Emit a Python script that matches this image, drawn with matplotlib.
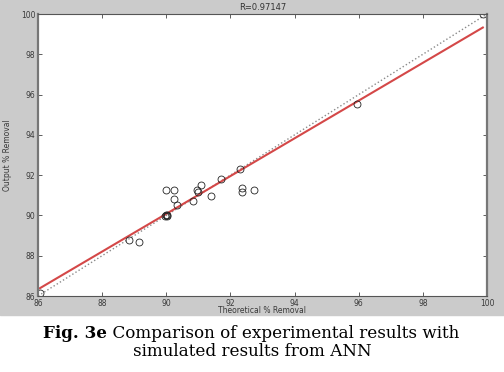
import matplotlib
matplotlib.use('Agg')
import matplotlib.pyplot as plt
from matplotlib.patches import Rectangle

# valores (Theoretical x Output)
teorico = [86.06, 88.83, 89.16, 89.97, 90.00, 90.03, 90.01, 90.00, 90.25,
           90.25, 90.34, 90.84, 90.97, 91.00, 91.07, 91.39, 91.70, 92.29,
           92.35, 92.35, 92.75, 95.94, 99.87]
saida = [86.13, 88.79, 88.70, 89.98, 90.00, 90.02, 89.96, 91.27, 91.27,
         90.82, 90.50, 90.74, 91.27, 91.15, 91.50, 90.95, 91.83, 92.32,
         91.35, 91.15, 91.27, 95.53, 99.98]

# reta ajustada
inclinacao = 0.937
intercepto = 5.75
R = 0.97147

ticks = [86, 88, 90, 92, 94, 96, 98, 100]


def Grafico():
    fig = plt.figure(figsize=(5.04, 3.72), dpi=100, facecolor='white')
    # fundo cinza estilo matlab
    fig.patches.append(Rectangle((0, 1 - 315 / 372), 1, 315 / 372,
                                 transform=fig.transFigure, color='#cbcbcb',
                                 zorder=-5))
    ax = fig.add_axes([38 / 504, 1 - 296 / 372, 449 / 504, 282 / 372])
    ax.set_facecolor('white')
    ax.set_zorder(2)

    ax.plot([86, 100], [86, 100], ':', color='#8a8a8a', lw=1.0)
    xs = [min(teorico), max(teorico)]
    ys = [inclinacao * x + intercepto for x in xs]
    ax.plot(xs, ys, '-', color='#d44848', lw=1.5)
    ax.plot(teorico, saida, 'o', mfc='none', mec='#222222', ms=5, mew=0.6)

    ax.set_xlim(86, 100)
    ax.set_ylim(86, 100)
    ax.set_xticks(ticks)
    ax.set_yticks(ticks)
    ax.tick_params(direction='in', length=3, width=0.6, top=True, right=True,
                   labelsize=5.5, labelcolor='#3a3a3a', color='#444444', pad=2)
    for lado in ax.spines:
        ax.spines[lado].set_color('#555555')
        ax.spines[lado].set_linewidth(0.8)
    ax.spines['left'].set_linewidth(1.6)
    ax.spines['right'].set_linewidth(1.6)
    ax.spines['left'].set_color('#777777')
    ax.spines['right'].set_color('#777777')

    ax.set_title('R=%.5f' % R, fontsize=6, color='#333333', pad=3)
    ax.set_xlabel('Theoretical % Removal', fontsize=5.5, color='#3a3a3a', labelpad=-1)
    ax.set_ylabel('Output % Removal', fontsize=5.5, color='#3a3a3a', labelpad=6)

    # legenda da figura
    serif = ['DejaVu Serif']
    t1 = fig.text(43 / 504, 1 - 338 / 372, 'Fig. 3e', fontsize=12.1,
                  fontweight='bold', family=serif, va='baseline', ha='left')
    fig.canvas.draw()
    r = fig.canvas.get_renderer()
    w = t1.get_window_extent(r).width
    fig.text((43 + w) / 504, 1 - 338 / 372,
             ' Comparison of experimental results with', fontsize=12.1,
             family=serif, va='baseline', ha='left')
    fig.text(0.5, 1 - 356 / 372, 'simulated results from ANN', fontsize=12.1,
             family=serif, va='baseline', ha='center')

    fig.savefig('out.png', dpi=100, facecolor='white')
    plt.close()


Grafico()
